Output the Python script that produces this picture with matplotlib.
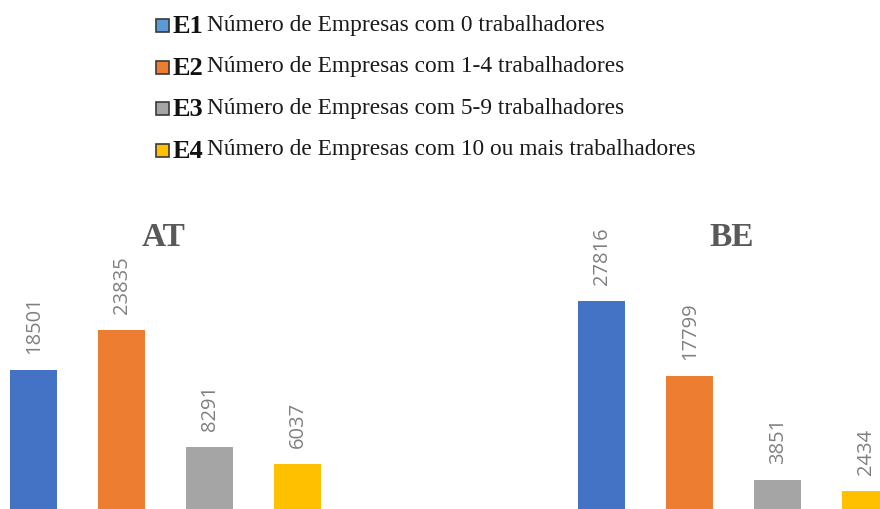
import matplotlib
matplotlib.use("Agg")
import matplotlib.pyplot as plt
from matplotlib.patches import Rectangle
from matplotlib.transforms import blended_transform_factory

# Data
regions = ["AT", "BE"]
codes = ["E1", "E2", "E3", "E4"]
descriptions = [
    "Número de Empresas com 0 trabalhadores",
    "Número de Empresas com 1-4 trabalhadores",
    "Número de Empresas com 5-9 trabalhadores",
    "Número de Empresas com 10 ou mais trabalhadores",
]
at_values = [18501, 23835, 8291, 6037]
be_values = [27816, 17799, 3851, 2434]
colors = ["#4472C4", "#ED7D31", "#A5A5A5", "#FFC000"]
legend_colors = ["#5B9BD5", "#ED7D31", "#A5A5A5", "#FFC000"]

W, H = 880, 509
fig = plt.figure(figsize=(W / 100, H / 100), dpi=100)

serif = ["Liberation Serif", "DejaVu Serif"]
label_font = ["Open Sans", "DejaVu Sans"]

# panel axes: (left px, xlim start)
panels = [(0, -0.381, regions[0], at_values), (528, -0.835, regions[1], be_values)]
ax_h = 300
for left_px, x0, name, vals in panels:
    ax = fig.add_axes([left_px / W, 0, 352 / W, ax_h / H])
    x = range(len(vals))
    bars = ax.bar(x, vals, width=0.534, color=colors)
    ax.set_xlim(x0, x0 + 4)
    ax.set_ylim(0, ax_h * 133.5)
    ax.axis("off")
    for b, v in zip(bars, vals):
        ax.annotate(str(v), (b.get_x() + b.get_width() / 2, v),
                    xytext=(0.5, 11.5), textcoords="offset points",
                    rotation=90, ha="center", va="bottom",
                    fontsize=14.5, color="#808080", family=label_font)
    tr = blended_transform_factory(ax.transData, ax.transAxes)
    ax.text(1.48, (H - 246) / ax_h, name, transform=tr, ha="center",
            va="baseline", fontsize=24, fontweight="bold",
            color="#595959", family=serif)

# legend drawn in pixel coordinates
lg = fig.add_axes([0, 0, 1, 1])
lg.set_xlim(0, W)
lg.set_ylim(H, 0)
lg.axis("off")
baselines = [33, 74.5, 116, 157.5]
for code, desc, c, yb in zip(codes, descriptions, legend_colors, baselines):
    lg.add_patch(Rectangle((156, yb - 14), 13, 13, facecolor=c,
                           edgecolor="#3A3A3A", linewidth=1.2))
    t = lg.text(173, yb, code, fontsize=19, fontweight="bold",
                family=serif, va="baseline", color="#111111")
    lg.annotate(desc, xy=(1, yb - 2.5), xycoords=(t, "data"),
                xytext=(2.5, 0), textcoords="offset points", va="baseline",
                fontsize=16.8, family=serif, color="#1A1A1A")

fig.savefig("out.png", dpi=100)
